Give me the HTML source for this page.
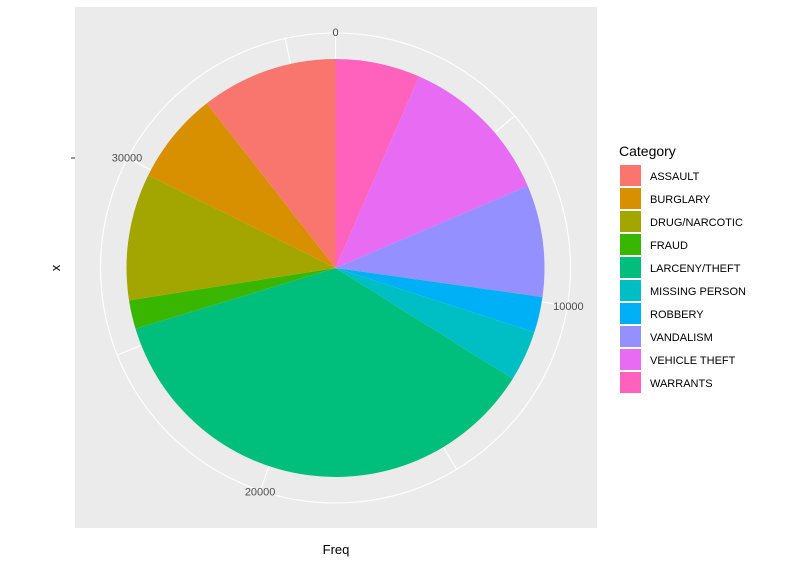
<!DOCTYPE html>
<html><head><meta charset="utf-8"><style>
body{margin:0;background:#fff;}
svg text{font-family:"Liberation Sans",Arial,sans-serif;}
</style></head><body>
<svg width="811" height="564">
<rect x="75" y="7" width="522" height="521" fill="#ebebeb"/>
<g id="grid"></g>
<g id="slices"></g>
<g id="ticks"></g>
<text x="60" y="268" font-size="13" fill="#000" text-anchor="middle" transform="rotate(-90 60 268)">x</text>
<line x1="71" y1="158" x2="75" y2="158" stroke="#333" stroke-width="1"/>
<text x="336" y="554" font-size="13" fill="#000" text-anchor="middle">Freq</text>
<text x="619" y="156" font-size="14" fill="#000">Category</text>
<g id="legend"></g>
</svg>
<script>
const categories=["ASSAULT","BURGLARY","DRUG/NARCOTIC","FRAUD","LARCENY/THEFT","MISSING PERSON","ROBBERY","VANDALISM","VEHICLE THEFT","WARRANTS"];
const counts=[3826,2578,3554,806,13200,1420,997,3132,4360,2376];
const colors=["#F8766D","#D89000","#A3A500","#39B600","#00BF7D","#00BFC4","#00B0F6","#9590FF","#E76BF3","#FF62BC"];
const majorTicks=[0,10000,20000,30000];
const minorTicks=[5000,15000,25000,35000];
const NS="http://www.w3.org/2000/svg";
const cx=335.5,cy=268,R=209,RO=235;
const total=counts.reduce((a,b)=>a+b,0);
function ang(v){return v/total*2*Math.PI;}
function pt(v,r){const a=ang(v);return [cx+r*Math.sin(a),cy-r*Math.cos(a)];}
function mk(tag,attrs,parent){const e=document.createElementNS(NS,tag);for(const k in attrs)e.setAttribute(k,attrs[k]);parent.appendChild(e);return e;}
const grid=document.getElementById('grid');
const c=mk('circle',{cx:cx,cy:cy,r:RO,fill:'none',stroke:'#fff','stroke-width':1.1},grid);


majorTicks.concat(minorTicks).forEach(v=>{if(v>total)return;const p=pt(v,RO);
const l=mk('line',{x1:cx,y1:cy,x2:p[0],y2:p[1],stroke:'#fff','stroke-width':1.1},grid);

});
const sl=document.getElementById('slices');
let start=0;
for(let i=categories.length-1;i>=0;i--){
 const end=start+counts[i];
 const p0=pt(start,R),p1=pt(end,R);
 const large=(ang(counts[i])>Math.PI)?1:0;
 const p=mk('path',{d:`M${cx},${cy}L${p0[0]},${p0[1]}A${R},${R} 0 ${large} 1 ${p1[0]},${p1[1]}Z`,fill:colors[i]},sl);
 
 
 start=end;
}
const tk=document.getElementById('ticks');
majorTicks.forEach(v=>{const p=pt(v,RO+1);
 const t=mk('text',{x:p[0],y:p[1]+4,'font-size':11,fill:'#4d4d4d','text-anchor':'middle'},tk);
 t.textContent=v;
 
 });
const lg=document.getElementById('legend');
categories.forEach((c,i)=>{const y=165+i*23;
 const r=mk('rect',{x:620,y:y,width:21,height:21,fill:colors[i]},lg);
 
 
 const t=mk('text',{x:650,y:y+15,'font-size':11,fill:'#000'},lg);t.textContent=c;
 
 });
</script>
</body></html>
